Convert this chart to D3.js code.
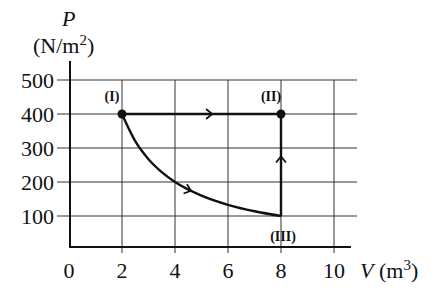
<!DOCTYPE html>
<html>
<head>
<meta charset="utf-8">
<script src="https://cdn.jsdelivr.net/npm/d3@7"></script>
<style>
  body { margin: 0; background: #fff; }
  text { font-family: "Liberation Serif", "DejaVu Serif", serif; fill: #111; }
</style>
</head>
<body>
<svg id="chart" width="431" height="290"></svg>
<script>
const width = 431;
const height = 290;

// data
const xTicks = [0, 2, 4, 6, 8, 10];
const yTicks = [100, 200, 300, 400, 500];
const topPath = [[2, 400], [8, 400]];           // I -> II
const sidePath = [[8, 100], [8, 400]];          // III -> II
const curveV = [2, 2.5, 3, 3.5, 4, 5, 6, 7, 8]; // I -> III
const curveP = [400, 320, 267, 229, 200, 160, 133, 114, 100];
const states = [
    { name: "(I)", v: 2, p: 400, dot: true, dx: -10 },
    { name: "(II)", v: 8, p: 400, dot: true, dx: -10 },
    { name: "(III)", v: 8, p: 100, dot: false, dx: 2 }
];

const svg = d3.select("#chart");

const x = d3.scaleLinear().domain([0, 10]).range([69, 334]);
const y = d3.scaleLinear().domain([0, 500]).range([250, 80]);

// grid
const grid = svg.append("g").attr("stroke", "#333").attr("stroke-width", 1);
grid.selectAll(".gy")
    .data(yTicks)
    .enter()
    .append("line")
    .attr("x1", 57).attr("x2", 357)
    .attr("y1", d => y(d)).attr("y2", d => y(d));
grid.selectAll(".gx")
    .data(xTicks.filter(d => d > 0))
    .enter()
    .append("line")
    .attr("x1", d => x(d)).attr("x2", d => x(d))
    .attr("y1", y(500)).attr("y2", 253);

// axes frame
svg.append("line")
    .attr("x1", 70).attr("x2", 70).attr("y1", 61).attr("y2", 247)
    .attr("stroke", "#111").attr("stroke-width", 2);
svg.append("line")
    .attr("x1", 69).attr("x2", 351).attr("y1", 247).attr("y2", 247)
    .attr("stroke", "#111").attr("stroke-width", 2);

// tick labels
svg.selectAll(".ty")
    .data(yTicks)
    .enter()
    .append("text")
    .attr("x", 54)
    .attr("y", d => y(d) + 8)
    .attr("text-anchor", "end")
    .attr("font-size", 22)
    .text(d => d);
svg.selectAll(".tx")
    .data(xTicks)
    .enter()
    .append("text")
    .attr("x", d => x(d))
    .attr("y", 278)
    .attr("text-anchor", "middle")
    .attr("font-size", 22)
    .text(d => d);

// axis titles
svg.append("text")
    .attr("x", 62).attr("y", 26)
    .attr("font-size", 22).attr("font-style", "italic")
    .text("P");
const unitY = svg.append("text").attr("x", 33).attr("y", 53).attr("font-size", 22);
unitY.append("tspan").text("(N/m");
unitY.append("tspan").attr("dy", -8).attr("font-size", 15).text("2");
unitY.append("tspan").attr("dy", 8).text(")");

const unitX = svg.append("text").attr("x", 360).attr("y", 278).attr("font-size", 22);
unitX.append("tspan").attr("font-style", "italic").text("V");
unitX.append("tspan").text(" (m");
unitX.append("tspan").attr("dy", -8).attr("font-size", 15).text("3");
unitX.append("tspan").attr("dy", 8).text(")");

// process paths
const line = d3.line().x(d => x(d[0])).y(d => y(d[1]));
const curve = d3.line().x(d => x(d[0])).y(d => y(d[1])).curve(d3.curveMonotoneX);
const curvePts = curveV.map((v, i) => [v, curveP[i]]);

const proc = svg.append("g").attr("fill", "none").attr("stroke", "#111").attr("stroke-width", 2.4);
proc.append("path").attr("d", line(topPath));
proc.append("path").attr("d", line(sidePath));
proc.append("path").attr("d", curve(curvePts));

// arrowheads (open chevrons)
function chevron(px, py, angle) {
    svg.append("path")
        .attr("d", "M-6,-5 L0,0 L-6,5")
        .attr("transform", `translate(${px},${py}) rotate(${angle})`)
        .attr("fill", "none").attr("stroke", "#111").attr("stroke-width", 1.8);
}
chevron(x(5.4), y(400), 0);
chevron(x(8), y(275), -90);
chevron(x(4.6), y(174), 20);

// state points and labels
svg.selectAll(".dot")
    .data(states.filter(d => d.dot))
    .enter()
    .append("circle")
    .attr("cx", d => x(d.v)).attr("cy", d => y(d.p))
    .attr("r", 4.5).attr("fill", "#111");
svg.selectAll(".lab")
    .data(states)
    .enter()
    .append("text")
    .attr("x", d => x(d.v) + d.dx)
    .attr("y", d => d.p === 400 ? y(d.p) - 13 : y(d.p) + 25)
    .attr("text-anchor", "middle")
    .attr("font-size", 14).attr("font-weight", "bold")
    .text(d => d.name);
</script>
</body>
</html>
